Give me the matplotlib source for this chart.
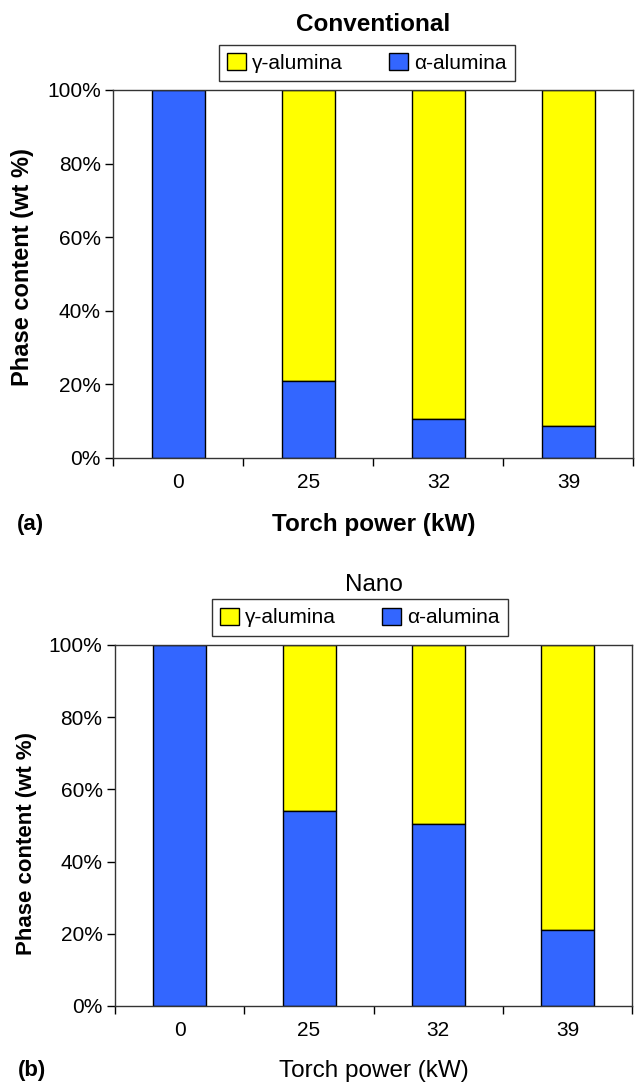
import numpy as np
import matplotlib
matplotlib.use("Agg")
import matplotlib.pyplot as plt
from matplotlib.ticker import FixedLocator, PercentFormatter

plt.rcParams['font.family'] = ['Liberation Sans', 'DejaVu Sans']

powers = ['0', '25', '32', '39']
conv_alpha = np.array([100, 21, 10.5, 8.6])
conv_gamma = 100 - conv_alpha
nano_alpha = np.array([100, 54, 50.3, 21])
nano_gamma = 100 - nano_alpha

blue = '#3366ff'
yellow = '#ffff00'

fig = plt.figure(figsize=(6.36, 10.84), dpi=100)
ax1 = fig.add_axes([0.178, 0.5775, 0.818, 0.3395])
ax2 = fig.add_axes([0.181, 0.072, 0.813, 0.333])


def draw(ax, alpha, gamma, title, letter, weight, leg_xy, ylab_xy, title_y, ylab_size):
    x = np.arange(len(powers))
    ax.bar(x, gamma, 0.41, bottom=alpha, color=yellow, edgecolor='black',
           linewidth=1, label='\u03b3-alumina', zorder=2)
    ax.bar(x, alpha, 0.41, color=blue, edgecolor='black',
           linewidth=1, label='\u03b1-alumina', zorder=2)
    ax.set_xlim(-0.5, 3.5)
    ax.set_ylim(0, 100)
    ax.set_yticks(np.arange(0, 101, 20))
    ax.yaxis.set_major_formatter(PercentFormatter(decimals=0))
    # ticks between categories, labels at centres
    ax.xaxis.set_major_locator(FixedLocator([-0.5, 0.5, 1.5, 2.5, 3.5]))
    ax.xaxis.set_major_formatter(plt.NullFormatter())
    ax.xaxis.set_minor_locator(FixedLocator(x))
    ax.set_xticklabels(powers, minor=True)
    ax.tick_params(axis='x', which='major', direction='out', length=6, width=1)
    ax.tick_params(axis='x', which='minor', length=0, pad=11, labelsize=15)
    ax.tick_params(axis='y', direction='out', length=6, width=1, labelsize=15, pad=3)
    for s in ax.spines.values():
        s.set_linewidth(1)
        s.set_color('#333333')

    ax.set_xlabel('Torch power (kW)', fontsize=17.5, fontweight=weight)
    ax.xaxis.set_label_coords(0.5, -0.18)
    ax.xaxis.label.set_va('center')
    ax.set_ylabel('Phase content (wt %)', fontsize=ylab_size, fontweight='bold')
    ax.yaxis.set_label_coords(*ylab_xy)
    ax.yaxis.label.set_va('center')
    ax.set_title(title, fontsize=17.5, fontweight=weight, y=title_y, va='center')

    ax.text(-0.16, -0.18, letter, transform=ax.transAxes, fontsize=16,
            fontweight='bold', ha='center', va='center')

    leg = ax.legend(loc='center', bbox_to_anchor=leg_xy, ncol=2, fontsize=15,
                    frameon=True, fancybox=False, edgecolor='black',
                    handlelength=0.9, handleheight=0.9, handletextpad=0.3,
                    columnspacing=2.2, borderpad=0.4, borderaxespad=0)
    leg.get_frame().set_linewidth(1)


draw(ax1, conv_alpha, conv_gamma, 'Conventional', '(a)', 'bold',
     (0.4875, 1.073), (-0.175, 0.52), 1.155, 17)
draw(ax2, nano_alpha, nano_gamma, 'Nano', '(b)', 'normal',
     (0.473, 1.076), (-0.172, 0.45), 1.143, 16)

fig.savefig('out.png', dpi=100)
